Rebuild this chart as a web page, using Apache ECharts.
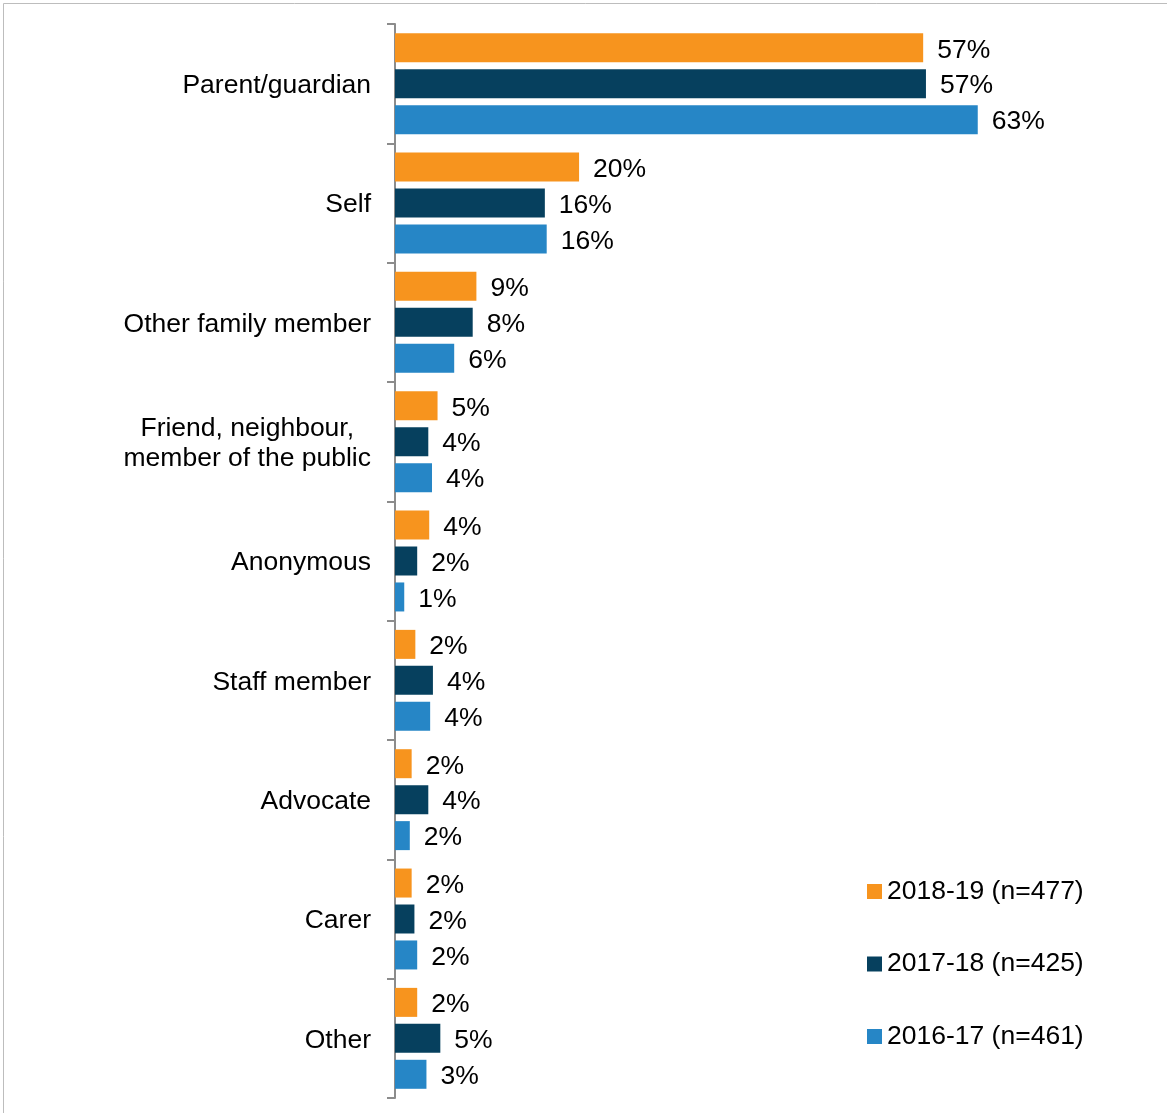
<!DOCTYPE html>
<html>
<head>
<meta charset="utf-8">
<script src="https://cdn.jsdelivr.net/npm/echarts@6/dist/echarts.min.js"></script>
<style>
html, body { margin: 0; padding: 0; background: #fff; }
#chart { width: 1167px; height: 1113px; }
</style>
</head>
<body>
<div id="chart"></div>
<script>
var categories = ['Parent/guardian', 'Self', 'Other family member', 'Friend, neighbour,\nmember of the public',
	'Anonymous', 'Staff member', 'Advocate', 'Carer', 'Other'];
var seriesNames = ['2018-19 (n=477)', '2017-18 (n=425)', '2016-17 (n=461)'];
var values1819 = [57.1, 19.9, 8.8, 4.6, 3.7, 2.2, 1.8, 1.8, 2.4];
var values1718 = [57.4, 16.2, 8.4, 3.6, 2.4, 4.1, 3.6, 2.1, 4.9];
var values1617 = [63.0, 16.4, 6.4, 4.0, 1.0, 3.8, 1.6, 2.4, 3.4];
var colors = ['#F7941E', '#06405E', '#2686C6'];

var myChart = echarts.init(document.getElementById('chart'));
var font = 'Liberation Sans, Arial, sans-serif';
var fs = 26.5;

function makeSeries(name, data, color) {
	return {
		name: name,
		type: 'bar',
		data: data,
		barWidth: 29,
		barGap: '24%',
		itemStyle: { color: color },
		label: {
			show: true,
			position: 'right',
			distance: 14,
			offset: [0, 2.5],
			color: '#000',
			fontFamily: font,
			fontSize: fs,
			formatter: function (p) { return Math.round(p.value) + '%'; }
		}
	};
}

var option = {
	animation: false,
	textStyle: { fontFamily: font },
	grid: {
		left: 395,
		width: 647.5,
		top: 24,
		bottom: 15
	},
	// frame around the figure
	graphic: [{
		type: 'rect',
		shape: { x: 3.5, y: 3.5, width: 1200, height: 1200 },
		style: { fill: 'none', stroke: '#bdbdbd', lineWidth: 1 }
	}],
	legend: {
		orient: 'vertical',
		left: 862,
		top: 873,
		icon: 'rect',
		itemWidth: 15,
		itemHeight: 15,
		itemGap: 45.5,
		textStyle: { fontSize: fs, color: '#000', fontFamily: font, lineHeight: 25, padding: [0, 0, 0, 0] },
		data: seriesNames
	},
	xAxis: {
		type: 'value',
		min: 0,
		max: 70,
		show: false
	},
	yAxis: {
		type: 'category',
		inverse: true,
		data: categories,
		axisLine: { lineStyle: { color: '#8c8c8c', width: 2 } },
		axisTick: { show: true, length: 8, lineStyle: { color: '#8c8c8c', width: 2 } },
		axisLabel: {
			margin: 24,
			color: '#000',
			fontSize: fs,
			fontFamily: font,
			formatter: function (v) {
				return v.split('\n').map(function (s) { return '{c|' + s + '}'; }).join('\n');
			},
			rich: {
				c: { align: 'center', fontSize: fs, lineHeight: 30, padding: [4, 0, 0, 0], color: '#000', fontFamily: font }
			}
		}
	},
	series: [
		makeSeries(seriesNames[0], values1819, colors[0]),
		makeSeries(seriesNames[1], values1718, colors[1]),
		makeSeries(seriesNames[2], values1617, colors[2])
	]
};
myChart.setOption(option);
</script>
</body>
</html>
